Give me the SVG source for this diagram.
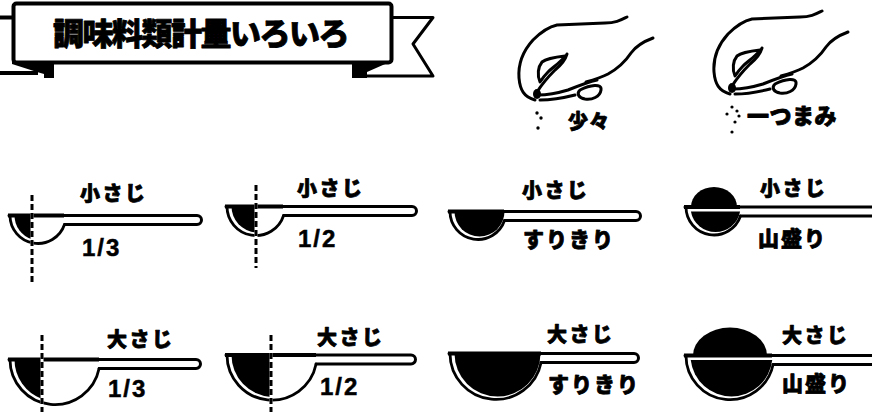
<svg xmlns="http://www.w3.org/2000/svg" width="872" height="412" viewBox="0 0 872 412">
  <style>
    .ln { fill: none; stroke: #000; stroke-width: 3; stroke-linecap: round; stroke-linejoin: round; }
    .bowl { fill: #fff; stroke: #000; stroke-width: 2.8; stroke-linecap: round; }
    .rim { fill: none; stroke: #000; stroke-width: 4; stroke-linecap: square; }
    .ink { fill: #000; stroke: none; }
    .dash { fill: none; stroke: #000; stroke-width: 3; stroke-dasharray: 6 3; }
    .dash-gap { fill: none; stroke: #fff; stroke-width: 3; }
    .hand path { fill: none; stroke: #000; stroke-width: 3; stroke-linecap: round; stroke-linejoin: round; }
    .jp { font-family: "Noto Sans CJK JP", "Noto Sans", sans-serif; font-weight: 900; fill: #000; stroke: #000; stroke-width: 0.8px; stroke-linejoin: round; }
    .lbl { font-size: 20px; letter-spacing: 2.5px; }
    .lbl2 { font-size: 21px; letter-spacing: 2px; }
    .num { font-family: "Liberation Sans", Arial, sans-serif; font-weight: 700; font-size: 24px; letter-spacing: 2px; fill: #000; stroke: #000; stroke-width: 0.5px; }
  </style>
  <defs>
    <!-- pinching hand, drawn once and reused -->
    <g id="hand" class="hand">
      <path d="M627,17 C621,20 616,23 605,23 L557,25 C548,27 540,33 533,40 C523,51 518,64 519,78 C520,90 524,97 535,100"/>
      <path d="M653,38 C645,41 636,46 631,53 C625,62 617,69 608,74 C600,78 593,80 586,82"/>
      <path d="M567,54 C565,61 561,65 555,70 C549,76 542,84 537,92"/>
      <path d="M540,82 C537,75 538,67 542,62 C547,58 556,57 565,56 C560,63 553,67 548,72 C544,76 542,79 540,82 Z"/>
      <path d="M538,95 C548,95 558,93 568,90 C578,86 588,82 597,80"/>
      <path d="M540,100 C552,100 563,98 575,95"/>
      <path d="M580,90 C590,85 602,83 601,90 C600,97 592,100 585,99 C579,98 576,94 580,90"/>
      <ellipse cx="537" cy="94" rx="4" ry="5" fill="#000" stroke="none"/>
    </g>
  </defs>

  <!-- title ribbon -->
  <g id="banner">
    <line x1="0" y1="17.5" x2="14" y2="17.5" stroke="#000" stroke-width="4"/>
    <line x1="0" y1="73" x2="38" y2="73" stroke="#000" stroke-width="4"/>
    <polygon class="ink" points="12,61 54,61 54,78 44,78 44,74 37,72 12,64"/>
    <polyline class="ln" points="392,17.5 433,17.5 413,44 433,76 367,76" stroke-width="3.5"/>
    <polygon class="ink" points="392,61 352,61 352,78 367,78 367,72"/>
    <rect x="13.5" y="3.5" width="378" height="59" rx="3" fill="#fff" stroke="#000" stroke-width="4"/>
    <text class="jp" x="53" y="45" font-size="31" letter-spacing="-1.5" stroke-width="1.2">調味料類計量いろいろ</text>
  </g>

  <!-- a pinch: 少々 -->
  <g id="pinch-small">
    <use href="#hand"/>
    <circle cx="537" cy="113" r="1.7"/>
    <circle cx="541" cy="118" r="1.7"/>
    <circle cx="538" cy="128" r="1.7"/>
    <text class="jp" x="568" y="129" font-size="20" letter-spacing="1">少々</text>
  </g>

  <!-- a pinch: 一つまみ -->
  <g id="pinch">
    <use href="#hand" transform="translate(195,-6)"/>
    <circle cx="732" cy="107" r="1.6"/>
    <circle cx="737" cy="111" r="1.6"/>
    <circle cx="727" cy="114" r="1.6"/>
    <circle cx="739" cy="116" r="1.6"/>
    <circle cx="735" cy="122" r="1.6"/>
    <circle cx="732" cy="132" r="1.6"/>
    <text class="jp" x="747" y="124" font-size="22" letter-spacing="0.5">一つまみ</text>
  </g>

  <!-- teaspoon 1/3 -->
  <g id="tsp-third">
    <path class="bowl" d="M10,215.5 A28 28 0 0 0 64.5,224.5"/>
    <path class="ink" d="M14.5,215.5 A25 25 0 0 0 32,239.35 L32,215.5 Z"/>
    <path class="ln" d="M64.5,224.5 H197 A4.5 4.5 0 0 0 197,215.5 H9"/>
    <line class="rim" x1="10" y1="215.5" x2="62" y2="215.5"/>
    <line class="dash-gap" x1="32" y1="195" x2="32" y2="284"/>
    <line class="dash" x1="32" y1="195" x2="32" y2="284"/>
    <text class="jp lbl" x="80" y="201">小さじ</text>
    <text class="num" x="82" y="256">1/3</text>
  </g>

  <!-- teaspoon 1/2 -->
  <g id="tsp-half">
    <path class="bowl" d="M227,206.5 A29 29 0 0 0 283.6,215.5"/>
    <path class="ink" d="M231.5,206.5 A26 26 0 0 0 256,232.46 L256,206.5 Z"/>
    <path class="ln" d="M283.6,215.5 H412 A4.5 4.5 0 0 0 412,206.5 H226"/>
    <line class="rim" x1="227" y1="206.5" x2="281" y2="206.5"/>
    <line class="dash-gap" x1="256" y1="185" x2="256" y2="268"/>
    <line class="dash" x1="256" y1="185" x2="256" y2="268"/>
    <text class="jp lbl" x="297" y="196">小さじ</text>
    <text class="num" x="298" y="247">1/2</text>
  </g>

  <!-- teaspoon levelled -->
  <g id="tsp-level">
    <path class="bowl" d="M450,211.5 A28 28 0 0 0 504.5,220.5"/>
    <path class="ink" d="M454.5,211.5 A25 25 0 0 0 504.5,211.5 Z"/>
    <path class="ln" d="M504.5,220.5 H636 A4.5 4.5 0 0 0 636,211.5 H449"/>
    <line class="rim" x1="450" y1="211.5" x2="502" y2="211.5"/>
    <text class="jp lbl" x="522" y="198">小さじ</text>
    <text class="jp lbl2" x="523" y="247">すりきり</text>
  </g>

  <!-- teaspoon heaped -->
  <g id="tsp-heaped">
    <path class="bowl" d="M686,207 A28 28 0 0 0 740.5,216"/>
    <path class="ink" d="M691,207 A23 20 0 0 1 737,207 Z"/>
    <path class="ink" d="M690.9,211.5 A25 25 0 0 0 740.1,211.5 Z"/>
    <path class="ln" d="M740.5,216 H880 M880,207 H685"/>
    <line class="rim" x1="686" y1="207" x2="738" y2="207"/>
    <text class="jp lbl" x="760" y="196">小さじ</text>
    <text class="jp lbl2" x="758" y="246" letter-spacing="0">山盛り</text>
  </g>

  <!-- tablespoon 1/3 -->
  <g id="tbsp-third">
    <path class="bowl" d="M10,359.5 A45 45 0 0 0 99.1,368.5"/>
    <path class="ink" d="M14.5,359.5 A42 42 0 0 0 42,398.92 L42,359.5 Z"/>
    <path class="ln" d="M99.1,368.5 H196 A4.5 4.5 0 0 0 196,359.5 H9"/>
    <line class="rim" x1="10" y1="359.5" x2="97" y2="359.5"/>
    <line class="dash-gap" x1="42" y1="335" x2="42" y2="414"/>
    <line class="dash" x1="42" y1="335" x2="42" y2="414"/>
    <text class="jp lbl" x="107" y="347">大さじ</text>
    <text class="num" x="108" y="397">1/3</text>
  </g>

  <!-- tablespoon 1/2 -->
  <g id="tbsp-half">
    <path class="bowl" d="M227,355 A45 45 0 0 0 316.1,364"/>
    <path class="ink" d="M231.5,355 A42 42 0 0 0 271,396.93 L271,355 Z"/>
    <path class="ln" d="M316.1,364 H411 A4.5 4.5 0 0 0 411,355 H226"/>
    <line class="rim" x1="227" y1="355" x2="314" y2="355"/>
    <line class="dash-gap" x1="271" y1="335" x2="271" y2="414"/>
    <line class="dash" x1="271" y1="335" x2="271" y2="414"/>
    <text class="jp lbl" x="317" y="345">大さじ</text>
    <text class="num" x="320" y="395">1/2</text>
  </g>

  <!-- tablespoon levelled -->
  <g id="tbsp-level">
    <path class="bowl" d="M450,353.5 A46 46 0 0 0 541.1,362.5"/>
    <path class="ink" d="M454.5,353.5 A43 43 0 0 0 540.5,353.5 Z"/>
    <path class="ln" d="M541.1,362.5 H634 A4.5 4.5 0 0 0 634,353.5 H449"/>
    <line class="rim" x1="450" y1="353.5" x2="539" y2="353.5"/>
    <text class="jp lbl" x="547" y="342">大さじ</text>
    <text class="jp lbl2" x="548" y="392">すりきり</text>
  </g>

  <!-- tablespoon heaped -->
  <g id="tbsp-heaped">
    <path class="bowl" d="M686,355.5 A44 44 0 0 0 773.1,364.5"/>
    <path class="ink" d="M693,355.5 A37 28 0 0 1 767,355.5 Z"/>
    <path class="ink" d="M690.75,360 A41 41 0 0 0 772.25,360 Z"/>
    <path class="ln" d="M773.1,364.5 H880 M880,355.5 H685"/>
    <line class="rim" x1="686" y1="355.5" x2="770" y2="355.5"/>
    <text class="jp lbl" x="782" y="343">大さじ</text>
    <text class="jp lbl2" x="782" y="391" letter-spacing="1">山盛り</text>
  </g>
</svg>
